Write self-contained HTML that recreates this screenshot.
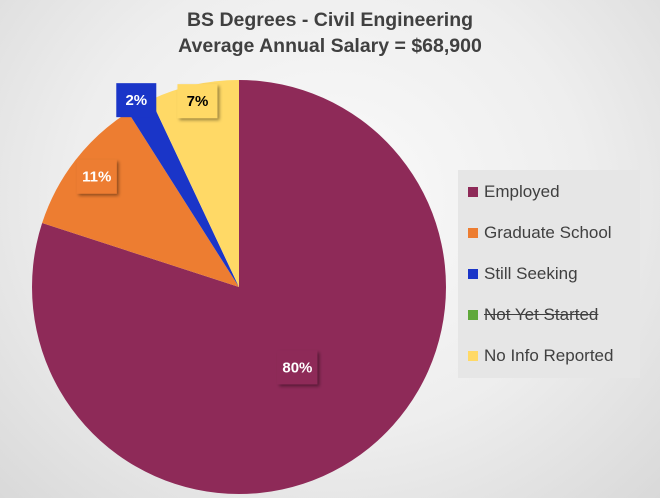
<!DOCTYPE html>
<html><head><meta charset="utf-8"><style>
body{margin:0;width:660px;height:498px;overflow:hidden;font-family:"Liberation Sans",sans-serif;}
#wrap{position:relative;width:660px;height:498px;background:radial-gradient(ellipse at 50% 40%,#fafafa 0%,#eeeeee 55%,#d9d9d9 100%);}
.title{position:absolute;left:0;width:660px;text-align:center;font-weight:bold;font-size:19.5px;color:#404040;}
</style></head><body>
<div id="wrap">
<div class="title" style="top:9px">BS Degrees - Civil Engineering</div>
<div class="title" style="top:35px">Average Annual Salary = $68,900</div>
<svg id="pie" width="660" height="498" style="position:absolute;left:0;top:0">
<defs><filter id="sh" x="-30%" y="-30%" width="160%" height="160%"><feDropShadow dx="2" dy="2" stdDeviation="1.5" flood-opacity="0.4"/></filter></defs>
</svg>
<div style="position:absolute;left:458px;top:170px;width:182px;height:208px;background:#e6e6e6">
<div id="leg"></div></div>
</div>
<script>
const categories=["Employed","Graduate School","Still Seeking","Not Yet Started","No Info Reported"];
const values=[80,11,2,0,7];
const colors=["#8e2a58","#ed7d31","#1a35c8","#5fa83a","#ffd966"];
const labelColors=["#fff","#fff","#fff","#000","#000"];
const labelRadius=[0.48,0.87,1.03,0.9,0.92];
const cx=239,cy=287,r=207;
const svg=document.getElementById('pie');
const NS="http://www.w3.org/2000/svg";
const total=values.reduce((a,b)=>a+b,0);
let a0=0;
function pt(a,rr){return [cx+rr*Math.sin(a),cy-rr*Math.cos(a)];}
const labels=[];
values.forEach((v,i)=>{
  const a1=a0+v/total*2*Math.PI;
  if(v>0){
    const p=document.createElementNS(NS,'path');
    const [x0,y0]=pt(a0,r),[x1,y1]=pt(a1,r);
    p.setAttribute('d',`M${cx},${cy}L${x0},${y0}A${r},${r} 0 ${a1-a0>Math.PI?1:0} 1 ${x1},${y1}Z`);
    p.setAttribute('fill',colors[i]);
    
    
    svg.appendChild(p);
    labels.push([i,v,(a0+a1)/2]);
  }
  a0=a1;
});
labels.forEach(([i,v,am])=>{
  const [lx,ly]=pt(am,r*labelRadius[i]);
  const b=document.createElementNS(NS,'rect');
  b.setAttribute('x',lx-20);b.setAttribute('y',ly-17);b.setAttribute('width',40);b.setAttribute('height',34);
  b.setAttribute('fill',colors[i]);
  if(i!==2)b.setAttribute('filter','url(#sh)');
  
  
  svg.appendChild(b);
  const t=document.createElementNS(NS,'text');
  t.setAttribute('x',lx);t.setAttribute('y',ly+5);
  t.setAttribute('text-anchor','middle');t.setAttribute('font-weight','bold');t.setAttribute('font-size','15');
  t.setAttribute('fill',labelColors[i]);
  t.textContent=v+'%';
  
  
  svg.appendChild(t);
});
const leg=document.getElementById('leg');
categories.forEach((c,i)=>{
  const d=document.createElement('div');
  d.style.cssText=`position:absolute;left:10px;top:${12+i*41}px;font-size:17px;color:#404040;white-space:nowrap;${values[i]===0?'text-decoration:line-through;':''}`;
  d.innerHTML=`<span style="display:inline-block;width:10px;height:10px;background:${colors[i]};margin-right:6px"></span>${c}`;
  
  
  leg.appendChild(d);
});
</script>
</body></html>
